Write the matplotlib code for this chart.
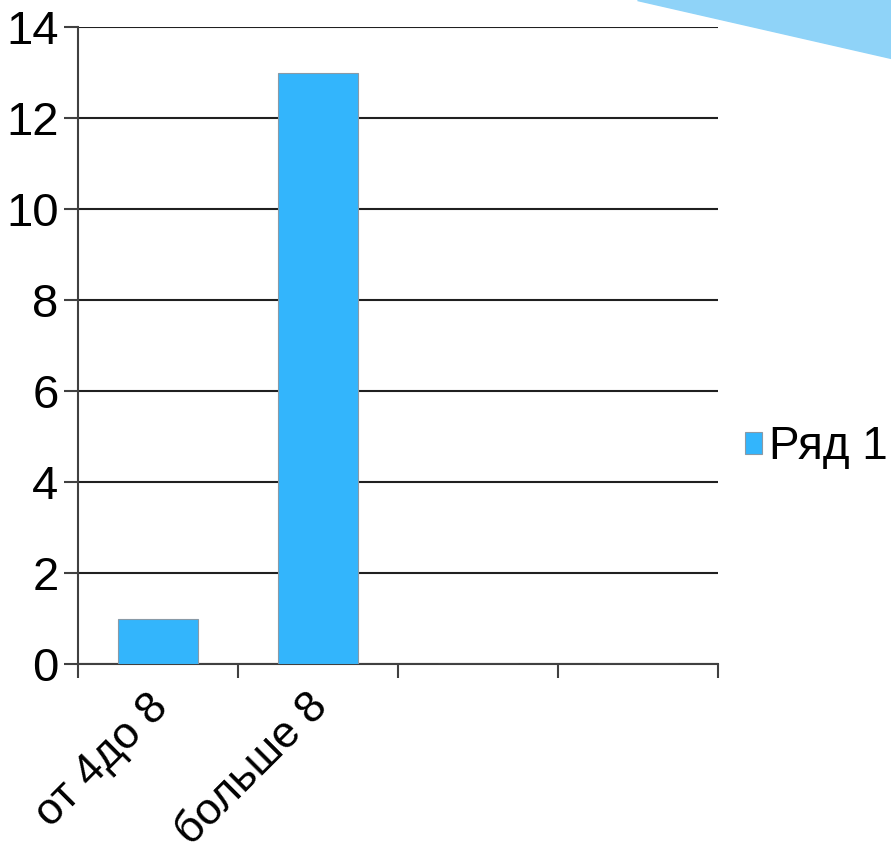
import matplotlib
matplotlib.use("Agg")
import matplotlib.pyplot as plt
import matplotlib.transforms as mtransforms
import numpy as np
from matplotlib.patches import Polygon

categories = ["от 4до 8", "больше 8", "", ""]
values = [1, 13, 0, 0]
series_name = "Ряд 1"
y_ticks = [0, 2, 4, 6, 8, 10, 12, 14]

plt.rcParams["font.family"] = ["Liberation Sans", "DejaVu Sans"]

fig = plt.figure(figsize=(8.91, 8.65), dpi=100)
ax = fig.add_axes([78 / 891, 1 - 664 / 865, 640 / 891, 637 / 865])

# decorative triangle in the top right corner
tri = Polygon([(637 / 891, 1.0), (1.0, 1.0), (1.0, 1 - 58 / 865)],
              closed=True, transform=fig.transFigure, color="#8fd3f8", zorder=0)
fig.patches.append(tri)

x = np.arange(len(categories))
ax.bar(x, values, width=0.5, color="#33b5fc", edgecolor="#8a9aa6",
       linewidth=0.8, label=series_name, zorder=3)

ax.set_xlim(-0.5, len(categories) - 0.5)
ax.set_ylim(0, 14)
ax.set_yticks(y_ticks)
ax.yaxis.grid(True, color="#202020", linewidth=1.5, zorder=0)
ax.set_axisbelow(True)

# category boundaries as major ticks, labels on minor ticks at centers
ax.set_xticks(np.arange(len(categories) + 1) - 0.5)
ax.set_xticklabels([])
ax.set_xticks(x, minor=True)
ax.set_xticklabels(categories, minor=True, rotation=45, ha="right",
                   va="top", rotation_mode="anchor", fontsize=32)
ax.tick_params(axis="x", which="minor", length=0, pad=16)
ax.tick_params(axis="x", which="major", length=10, width=1.5, color="#404040")
ax.tick_params(axis="y", length=10, width=1.5, color="#404040", labelsize=34, pad=4)

shift = mtransforms.ScaledTranslation(-11 / 100, 0, fig.dpi_scale_trans)
for lbl in ax.get_xticklabels(minor=True):
    lbl.set_transform(lbl.get_transform() + shift)

for s in ["top", "right"]:
    ax.spines[s].set_visible(False)
for s in ["left", "bottom"]:
    ax.spines[s].set_color("#404040")
    ax.spines[s].set_linewidth(1.5)

ax.legend(loc="center left", bbox_to_anchor=(1.042, 0.34), frameon=False,
          fontsize=33, handlelength=0.38, handleheight=0.38, handletextpad=0.15,
          borderaxespad=0, borderpad=0)

fig.savefig("out.png", dpi=100)
